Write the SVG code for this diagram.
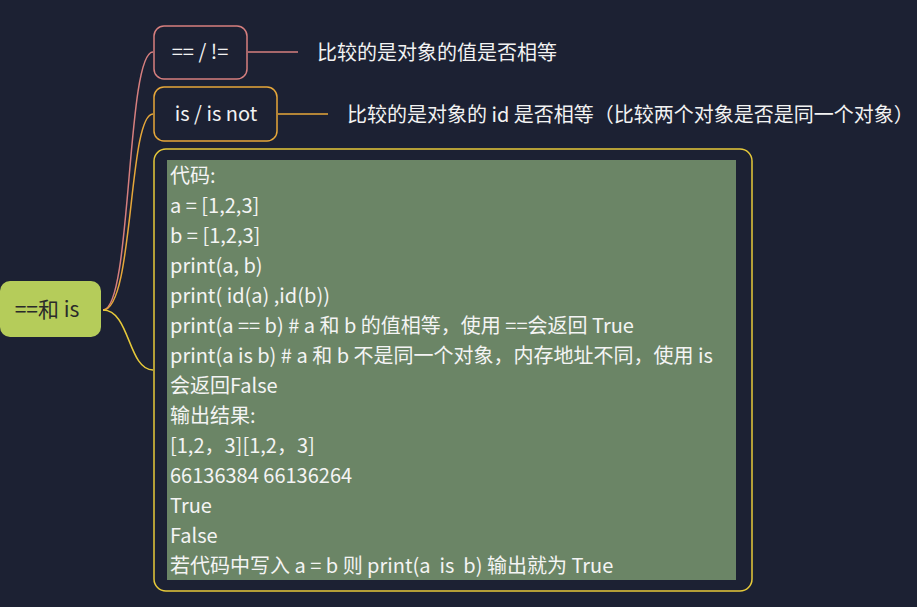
<svg xmlns="http://www.w3.org/2000/svg" width="917" height="607" viewBox="0 0 917 607">
<style>
text{font-family:"Noto Sans CJK SC","Noto Sans",sans-serif;white-space:pre;}
.lbl{fill:#f2f2f2;font-size:20px;}
.code{fill:#f4f4f4;font-size:20px;}
.conn{fill:none;stroke-width:1.5;}
</style>
<rect width="917" height="607" fill="#1c2133"/>
<g id="connectors">
<path class="conn" stroke="#d67f7f" d="M103,310 C132,310 126,52 153,52"/>
<path class="conn" stroke="#e6a73a" d="M103,310 C134,310 128,114 153,114"/>
<path class="conn" stroke="#e6c93a" d="M103,310 C130,310 128,370 153,370"/>
<path class="conn" stroke="#d67f7f" d="M248,52 H298"/>
<path class="conn" stroke="#e6a73a" d="M278,114 H328"/>
</g>
<g id="root">
<rect x="0" y="281" width="101" height="56" rx="10" fill="#b5cc5a"/>
<text x="47" y="317" text-anchor="middle" font-size="21" fill="#2a2a2a">==和 is</text>
</g>
<g id="node-eq">
<rect x="154" y="26" width="93" height="53" rx="10" fill="#1c2133" stroke="#d67f7f" stroke-width="1.5"/>
<text class="lbl" x="200" y="59" text-anchor="middle">== / !=</text>
</g>
<g id="label-eq">
<text class="lbl" x="317" y="60">比较的是对象的值是否相等</text>
</g>
<g id="node-is">
<rect x="154" y="87" width="123" height="54" rx="10" fill="#1c2133" stroke="#e6a73a" stroke-width="1.5"/>
<text class="lbl" x="216" y="121" text-anchor="middle">is / is not</text>
</g>
<g id="label-is">
<text class="lbl" x="347" y="122">比较的是对象的 id 是否相等（比较两个对象是否是同一个对象）</text>
</g>
<g id="node-code">
<rect x="154" y="149" width="598" height="442" rx="12" fill="#1c2133" stroke="#e6c93a" stroke-width="1.5"/>
<rect x="167" y="160" width="569" height="420" fill="#6b8566"/>
<text class="code" x="170" y="183">代码:</text>
<text class="code" x="170" y="213">a = [1,2,3]</text>
<text class="code" x="170" y="243">b = [1,2,3]</text>
<text class="code" x="170" y="273">print(a, b)</text>
<text class="code" x="170" y="303">print( id(a) ,id(b))</text>
<text class="code" x="170" y="333">print(a == b) # a 和 b 的值相等，使用 ==会返回 True</text>
<text class="code" x="170" y="363">print(a is b) # a 和 b 不是同一个对象，内存地址不同，使用 is</text>
<text class="code" x="170" y="393">会返回False</text>
<text class="code" x="170" y="423">输出结果:</text>
<text class="code" x="170" y="453">[1,2，3][1,2，3]</text>
<text class="code" x="170" y="483">66136384 66136264</text>
<text class="code" x="170" y="513">True</text>
<text class="code" x="170" y="543">False</text>
<text class="code" x="170" y="573" xml:space="preserve">若代码中写入 a = b 则 print(a  is  b) 输出就为 True</text>
</g>
</svg>
